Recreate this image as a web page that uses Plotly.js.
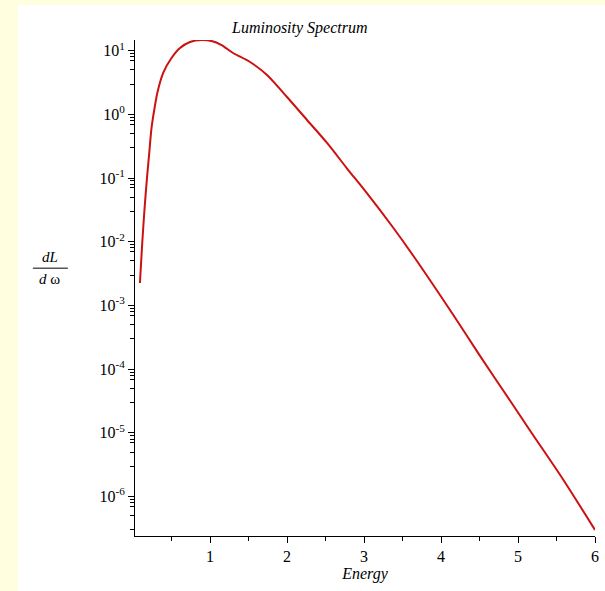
<!DOCTYPE html>
<html>
<head>
<meta charset="utf-8">
<script src="https://cdn.plot.ly/plotly-3.0.1.min.js"></script>
<style>
  html, body { margin: 0; padding: 0; background: #FFFFE0; width: 605px; height: 591px; overflow: hidden; }
  #chart { position: absolute; left: 18px; top: 5px; width: 587px; height: 586px; }
</style>
</head>
<body>
<div id="chart"></div>
<script>
// Data
const energy = [0.09, 0.12, 0.15, 0.18, 0.21, 0.24, 0.28, 0.32, 0.395, 0.5, 0.61, 0.74, 0.89, 1.02, 1.15, 1.3, 1.52, 1.74, 2.0, 2.26, 2.52, 2.78, 3.04, 3.38, 3.64, 4.16, 4.5, 4.9, 5.16, 5.59, 6.0];
const dLdw = [0.00225, 0.00955, 0.0331, 0.0955, 0.240, 0.603, 1.259, 2.291, 4.571, 7.674, 11.02, 13.71, 14.72, 14.19, 12.27, 9.20, 6.65, 4.16, 1.875, 0.817, 0.356, 0.1413, 0.0575, 0.0166, 0.00603, 7.08e-4, 1.66e-4, 3.16e-5, 1.07e-5, 1.82e-6, 2.99e-7];

const yTickVals = [10, 1, 0.1, 0.01, 0.001, 1e-4, 1e-5, 1e-6];
const yTickText = ['10<sup>1</sup>', '10<sup>0</sup>', '10<sup>-1</sup>', '10<sup>-2</sup>', '10<sup>-3</sup>', '10<sup>-4</sup>', '10<sup>-5</sup>', '10<sup>-6</sup>'];
const xTickVals = [1, 2, 3, 4, 5, 6];
const xTickText = ['1', '2', '3', '4', '5', '6'];
const minorMantissas = [3, 5, 7, 8, 9];

const yMinor = [];
for (let e = -7; e <= 1; e++) {
  for (const m of minorMantissas) yMinor.push(m * Math.pow(10, e));
}

const serif = "'Liberation Serif', 'Times New Roman', serif";

const trace = {
  x: energy,
  y: dLdw,
  type: 'scatter',
  mode: 'lines',
  line: { color: '#cc1111', width: 2, shape: 'spline', smoothing: 0.8 },
  hoverinfo: 'skip'
};

const layout = {
  width: 587,
  height: 586,
  margin: { l: 117, r: 10, t: 35, b: 55 },
  paper_bgcolor: '#ffffff',
  plot_bgcolor: '#ffffff',
  showlegend: false,
  font: { family: serif, size: 15, color: '#000' },
  title: {
    text: '<i>Luminosity Spectrum</i>',
    font: { family: serif, size: 16, color: '#000' },
    xref: 'container', yref: 'container',
    x: 0.48, y: 0.962, xanchor: 'center', yanchor: 'middle'
  },
  xaxis: {
    range: [0.026, 6],
    showgrid: false, zeroline: false,
    showline: true, linecolor: '#000', linewidth: 1,
    ticks: 'outside', ticklen: 6, tickcolor: '#000', tickwidth: 1,
    tickmode: 'array', tickvals: xTickVals, ticktext: xTickText,
    minor: { ticks: 'outside', ticklen: 4, tickcolor: '#000', tickmode: 'array', tickvals: [0.5, 1.5, 2.5, 3.5, 4.5, 5.5] },
    tickfont: { family: serif, size: 16, color: '#000' },
    title: { text: '<i>Energy</i>', font: { family: serif, size: 16, color: '#000' }, standoff: 3 }
  },
  yaxis: {
    type: 'log',
    range: [-6.62, 1.168],
    showgrid: false, zeroline: false,
    showline: true, linecolor: '#000', linewidth: 1,
    ticks: 'outside', ticklen: 6, tickcolor: '#000', tickwidth: 1,
    tickmode: 'array', tickvals: yTickVals, ticktext: yTickText,
    minor: { ticks: 'outside', ticklen: 4, tickcolor: '#000', tickmode: 'array', tickvals: yMinor },
    tickfont: { family: serif, size: 16, color: '#000' }
  },
  annotations: [
    { xref: 'paper', yref: 'paper', x: -0.185, y: 0.54, text: '<i>dL</i>', showarrow: false,
      font: { family: serif, size: 15, color: '#000' }, xanchor: 'center', yanchor: 'bottom', yshift: 1 },
    { xref: 'paper', yref: 'paper', x: -0.185, y: 0.54, text: '<i>d</i> ω', showarrow: false,
      font: { family: serif, size: 15, color: '#000' }, xanchor: 'center', yanchor: 'top', yshift: -1 }
  ],
  shapes: [
    { type: 'line', xref: 'paper', yref: 'paper', x0: -0.222, x1: -0.146, y0: 0.54, y1: 0.54,
      line: { color: '#000', width: 1 } }
  ]
};

Plotly.newPlot('chart', [trace], layout, { displayModeBar: false, staticPlot: true });
</script>
</body>
</html>
